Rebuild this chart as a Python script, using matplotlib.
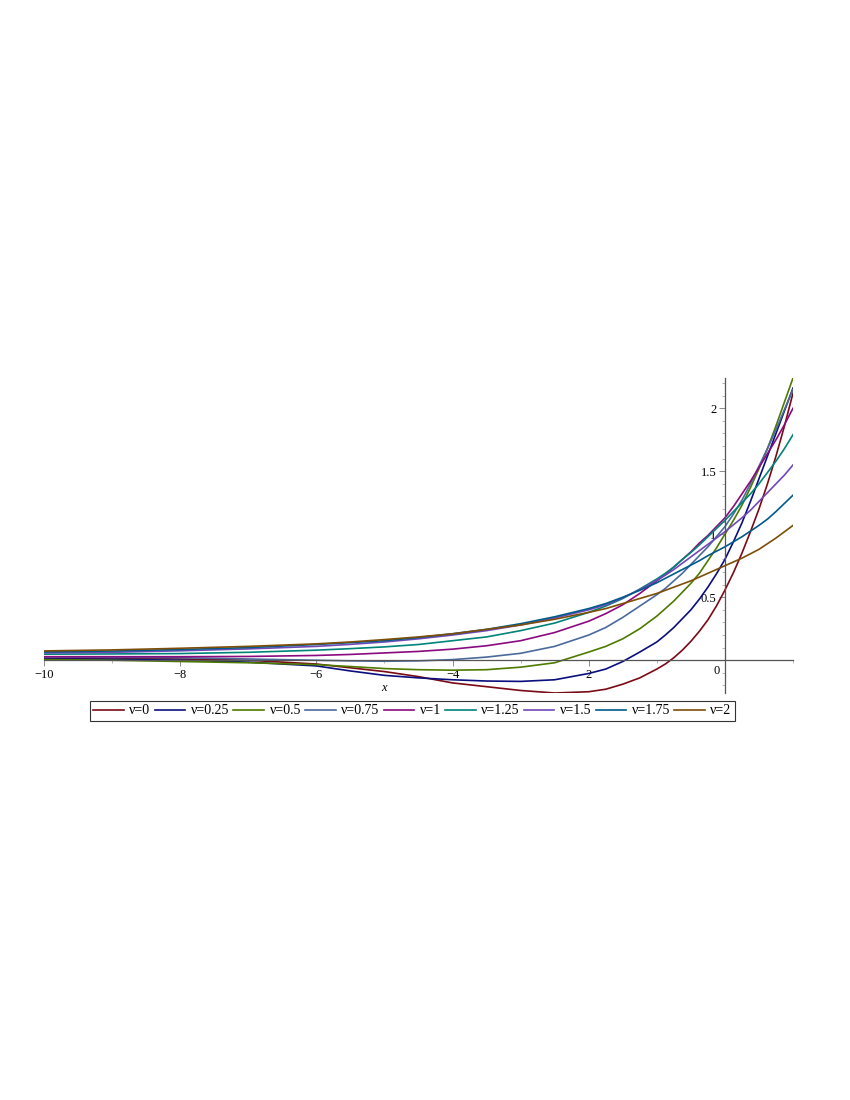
import matplotlib
matplotlib.use("Agg")
import matplotlib.pyplot as plt
from matplotlib.ticker import MultipleLocator

# ---- data ----
x = [-10, -9, -8, -7, -6, -5.5, -5, -4.5, -4, -3.5, -3, -2.5, -2, -1.75, -1.5, -1.25,
     -1, -0.875, -0.75, -0.625, -0.5, -0.375, -0.25, -0.125, 0,
     0.125, 0.25, 0.375, 0.5, 0.625, 0.75, 0.875, 1]

nu_labels = ["ν=0", "ν=0.25", "ν=0.5", "ν=0.75", "ν=1", "ν=1.25", "ν=1.5", "ν=1.75", "ν=2"]

y_nu0 = [0.015, 0.018, 0.01, 0.0, -0.03, -0.06, -0.09, -0.13, -0.18, -0.21, -0.24, -0.26, -0.25,
         -0.23, -0.19, -0.14, -0.07, -0.03, 0.02, 0.08, 0.15, 0.23, 0.32, 0.43, 0.556,
         0.695, 0.85, 1.02, 1.2, 1.40, 1.62, 1.86, 2.12]
y_nu025 = [0.01, 0.008, 0.0, -0.015, -0.045, -0.085, -0.12, -0.14, -0.155, -0.165, -0.168, -0.155, -0.105,
           -0.07, -0.01, 0.065, 0.145, 0.2, 0.26, 0.33, 0.40, 0.485, 0.58, 0.685, 0.80,
           0.94, 1.09, 1.26, 1.44, 1.62, 1.8, 1.98, 2.16]
y_nu05 = [0.005, 0.0, -0.01, -0.02, -0.035, -0.05, -0.066, -0.075, -0.079, -0.075, -0.055, -0.02, 0.065,
          0.11, 0.17, 0.25, 0.35, 0.41, 0.47, 0.54, 0.61, 0.69, 0.79, 0.89, 1.0,
          1.11, 1.23, 1.37, 1.52, 1.68, 1.86, 2.05, 2.24]
y_nu075 = [0.026, 0.024, 0.02, 0.01, 0.0, -0.005, -0.008, -0.005, 0.005, 0.025, 0.055, 0.11, 0.20,
           0.26, 0.34, 0.43, 0.52, 0.57, 0.63, 0.69, 0.76, 0.83, 0.90, 0.98, 1.06,
           1.16, 1.27, 1.40, 1.54, 1.68, 1.83, 1.99, 2.15]
y_nu1 = [0.028, 0.028, 0.028, 0.03, 0.038, 0.046, 0.058, 0.07, 0.088, 0.115, 0.155, 0.22, 0.31,
         0.37, 0.44, 0.53, 0.63, 0.68, 0.74, 0.80, 0.86, 0.93, 0.99, 1.06, 1.13,
         1.22, 1.32, 1.42, 1.53, 1.64, 1.75, 1.87, 2.0]
y_nu125 = [0.048, 0.05, 0.053, 0.063, 0.08, 0.092, 0.106, 0.125, 0.155, 0.185, 0.235, 0.295, 0.38,
           0.43, 0.49, 0.565, 0.645, 0.69, 0.74, 0.80, 0.855, 0.915, 0.98, 1.045, 1.11,
           1.18, 1.25, 1.32, 1.40, 1.49, 1.58, 1.68, 1.79]
y_nu15 = [0.058, 0.063, 0.075, 0.09, 0.11, 0.126, 0.145, 0.17, 0.2, 0.235, 0.28, 0.335, 0.40,
          0.44, 0.495, 0.56, 0.635, 0.675, 0.72, 0.77, 0.82, 0.87, 0.92, 0.97, 1.02,
          1.075, 1.13, 1.19, 1.26, 1.33, 1.40, 1.47, 1.55]
y_nu175 = [0.066, 0.073, 0.085, 0.1, 0.125, 0.14, 0.155, 0.18, 0.21, 0.245, 0.29, 0.345, 0.41,
           0.45, 0.5, 0.555, 0.615, 0.65, 0.685, 0.72, 0.755, 0.79, 0.83, 0.865, 0.90,
           0.94, 0.98, 1.025, 1.07, 1.12, 1.18, 1.245, 1.31]
y_nu2 = [0.074, 0.082, 0.095, 0.11, 0.13, 0.145, 0.164, 0.185, 0.21, 0.245, 0.28, 0.325, 0.38,
         0.41, 0.45, 0.49, 0.53, 0.555, 0.58, 0.605, 0.63, 0.66, 0.69, 0.72, 0.75,
         0.78, 0.81, 0.845, 0.88, 0.925, 0.97, 1.02, 1.07]

series = [y_nu0, y_nu025, y_nu05, y_nu075, y_nu1, y_nu125, y_nu15, y_nu175, y_nu2]
colors = ["#7a0a16", "#0a0f7d", "#4e7a00", "#4a6a9c", "#8a0a80", "#00847a",
          "#7048b8", "#005a8a", "#7e4e08"]

xticks = [-10, -8, -6, -4, -2]
xticklabels = ["−10", "−8", "−6", "−4", "2"]
yticks = [0.5, 1, 1.5, 2]
yticklabels = ["0.5", "1", "1.5", "2"]

plt.rcParams['font.family'] = ['Liberation Serif', 'DejaVu Serif']

fig = plt.figure(figsize=(8.5, 11), dpi=100)
W, H = 850, 1100
left, right, top, bottom = 44, 793, 378, 693
ax = fig.add_axes([left / W, 1 - bottom / H, (right - left) / W, (bottom - top) / H])
ax.set_xlim(-10, 1)
ax.set_ylim(-0.26, 2.24)

lines = []
for ys, c, lab in zip(series, colors, nu_labels):
    ln, = ax.plot(x, ys, color=c, lw=1.2, label=lab, solid_joinstyle='round')
    lines.append(ln)

for s in ["top", "right"]:
    ax.spines[s].set_visible(False)
ax.spines["bottom"].set_position(("data", 0))
ax.spines["left"].set_position(("data", 0))
for s in ["bottom", "left"]:
    ax.spines[s].set_color("#555555")
    ax.spines[s].set_linewidth(0.9)

ax.set_xticks(xticks)
ax.set_xticklabels(xticklabels)
ax.xaxis.set_minor_locator(MultipleLocator(1))
ax.set_yticks(yticks)
ax.set_yticklabels(yticklabels)
ax.yaxis.set_minor_locator(MultipleLocator(0.1))
ax.tick_params(axis="both", which="major", length=4, width=0.6, color="#777777",
               labelsize=9, direction="out", pad=2)
ax.tick_params(axis="both", which="minor", length=2.5, width=0.5, color="#999999",
               direction="out")
ax.text(-0.08, -0.035, "0", fontsize=9, ha="right", va="top")
ax.text(-5.01, -0.222, "x", fontsize=9, style="italic", ha="center", va="center")
ax.patch.set_alpha(0)

leg = fig.legend(handles=lines, loc="center", ncol=9,
                 bbox_to_anchor=((89 + 736) / 2 / W, 1 - 711 / H),
                 fontsize=10, frameon=True, fancybox=False, edgecolor="black",
                 handlelength=2.2, handletextpad=0.4, columnspacing=0.3,
                 borderpad=0.25, borderaxespad=0)
leg.get_frame().set_linewidth(0.8)

fig.savefig("out.png", dpi=100)
